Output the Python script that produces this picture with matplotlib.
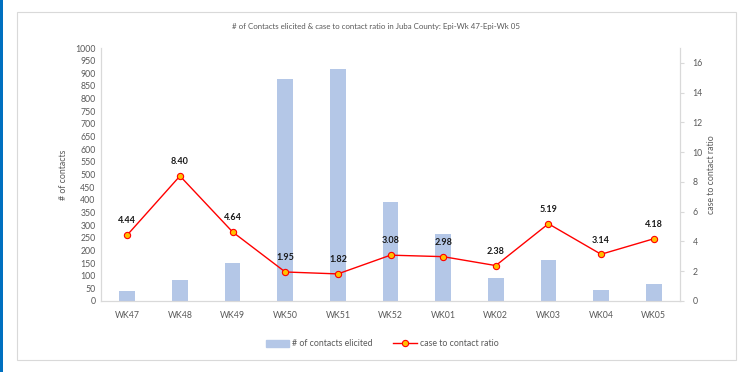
import matplotlib.pyplot as plt
from matplotlib.patches import Rectangle
from matplotlib.lines import Line2D

weeks = ['WK47', 'WK48', 'WK49', 'WK50', 'WK51', 'WK52', 'WK01', 'WK02', 'WK03', 'WK04', 'WK05']
contacts = [38, 83, 150, 878, 916, 390, 264, 90, 162, 42, 68]
ratio = [4.44, 8.40, 4.64, 1.95, 1.82, 3.08, 2.98, 2.38, 5.19, 3.14, 4.18]

plt.rcParams['font.family'] = ['Lato', 'DejaVu Sans']
grey = '#595959'

fig = plt.figure(figsize=(7.43, 3.72), dpi=100)
W, H = 743, 372

# blue edge on the left and the chart frame
fig.add_artist(Rectangle((0, 0), 3 / W, 1, transform=fig.transFigure, color='#0070C0', lw=0))
fig.add_artist(Rectangle((17 / W, 12 / H), (736 - 17) / W, (360 - 12) / H, transform=fig.transFigure,
                         fill=False, ec='#D9D9D9', lw=0.8))

ax = fig.add_axes([101 / W, (H - 301) / H, (680 - 101) / W, (301 - 48) / H])
ax2 = ax.twinx()

x = range(len(weeks))
ax.bar(x, contacts, width=0.3, color='#B4C7E7', zorder=2)
ax.set_ylim(0, 1000)
ax.set_yticks(range(0, 1001, 50))
ax.set_xlim(-0.5, len(weeks) - 0.5)
ax.set_xticks(list(x))
ax.set_xticklabels(weeks)
ax.tick_params(axis='both', labelsize=6.3, colors=grey, length=0, pad=4)
ax.tick_params(axis='x', pad=7)
ax.set_ylabel('# of contacts', fontsize=6.3, color=grey, labelpad=5)

ax2.plot(x, ratio, color='red', lw=1, marker='o', ms=4.5, mfc='#FFC000', mec='red', mew=0.8, zorder=3)
for i, v in enumerate(ratio):
    ax2.annotate(f'{v:.2f}', (i, v), xytext=(0, 7), textcoords='offset points', ha='center', va='bottom',
                 fontsize=6.5, fontweight='bold', color='#1a1a1a')
ax2.set_ylim(0, 17)
ax2.set_yticks(range(0, 17, 2))
ax2.tick_params(axis='y', labelsize=6.3, colors=grey, length=3, pad=6, color='#D9D9D9')
ax2.set_ylabel('case to contact ratio', fontsize=6.3, color=grey, labelpad=3)

for a in (ax, ax2):
    a.spines['top'].set_visible(False)
    a.spines['left'].set_color('#D9D9D9')
    a.spines['right'].set_color('#D9D9D9')
    a.spines['bottom'].set_color('#D9D9D9')

fig.text(376 / W, 1 - 27 / H,
         '# of Contacts elicited & case to contact ratio in Juba County: Epi-Wk 47-Epi-Wk 05',
         ha='center', va='center', fontsize=5.7, color=grey)

handles = [Rectangle((0, 0), 1, 1, color='#B4C7E7'),
           Line2D([], [], color='red', lw=1, marker='o', ms=4.5, mfc='#FFC000', mec='red', mew=0.8)]
leg = fig.legend(handles, ['# of contacts elicited', 'case to contact ratio'], loc='center',
                 bbox_to_anchor=(382 / W, 1 - 344 / H), ncol=2, frameon=False, fontsize=6.3,
                 handlelength=2.7, columnspacing=2.3, handletextpad=0.35)
for t in leg.get_texts():
    t.set_color(grey)

fig.savefig('out.png', dpi=100)
